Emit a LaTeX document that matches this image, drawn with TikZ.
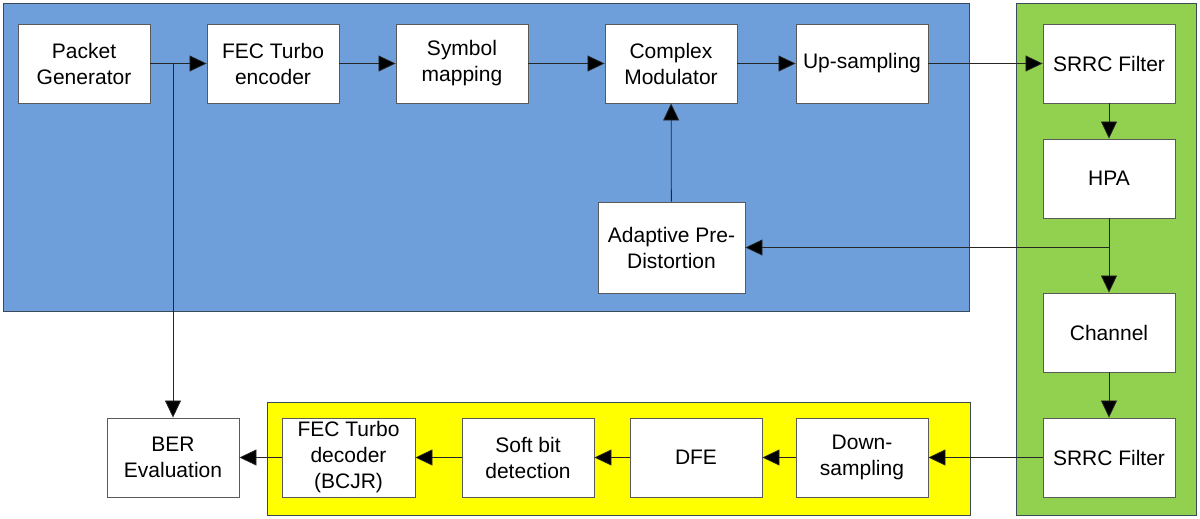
\documentclass[tikz,border=0pt]{standalone}
\usepackage{fontspec}
\setmainfont{Liberation Sans}
\usetikzlibrary{arrows.meta, positioning}
\definecolor{txBlue}{HTML}{6F9FDB}
\definecolor{chGreen}{HTML}{92D050}
\definecolor{rxYellow}{HTML}{FFFF00}
\definecolor{edgeGray}{HTML}{5A5A5A}
\definecolor{areaLine}{HTML}{3A4A5A}

\begin{document}
\begin{tikzpicture}[x=1pt, y=-1pt,
  blk/.style={draw=edgeGray, line width=0.9pt, fill=white, minimum width=132pt, minimum height=79pt,
    inner sep=2pt, align=center, font=\fontsize{21}{26}\selectfont},
  area/.style={draw=areaLine, line width=0.9pt},
  arr/.style={-{Triangle[length=17pt, width=16pt, fill=black]}, line width=0.8pt, black!85}]
\useasboundingbox (0,0) rectangle (1200,519);
% background areas
\draw[area, fill=txBlue] (3,3) rectangle (969,311);
\draw[area, fill=chGreen] (1016,3) rectangle (1196,515);
\draw[area, fill=rxYellow] (267,402) rectangle (970,515);
% transmitter
\node[blk] (pg) at (84,63.5) {Packet\\Generator};
\node[blk] (fecenc) at (273,63.5) {FEC Turbo\\encoder};
\node[blk] (symmap) at (462,63.5) {Symbol\\mapping};
\node[blk] (cmod) at (671,63.5) {Complex\\Modulator};
\node[blk] (upsmp) at (862,63.5) {Up-sampling};
\node[blk, minimum width=147pt, minimum height=91pt] (apd) at (671.5,247.5) {Adaptive Pre-\\Distortion};
% channel
\node[blk] (srrctx) at (1109,63.5) {SRRC Filter};
\node[blk] (hpa) at (1109,178.5) {HPA};
\node[blk] (chan) at (1109,332.5) {Channel};
\node[blk] (srrcrx) at (1109,457.5) {SRRC Filter};
% receiver
\node[blk] (dnsmp) at (862,457.5) {Down-\\sampling};
\node[blk] (dfe) at (696,457.5) {DFE};
\node[blk] (soft) at (528,457.5) {Soft bit\\detection};
\node[blk, minimum width=133pt] (fecdec) at (348.5,457.5) {FEC Turbo\\decoder\\(BCJR)};
\node[blk] (ber) at (173,457.5) {BER\\Evaluation};
% connectors
\coordinate (tap) at (hpa.south |- apd.east);
\draw[arr] (pg) -- (fecenc);
\draw[arr] (pg.east -| ber.north) -- (ber.north);
\draw[arr] (fecenc) -- (symmap);
\draw[arr] (symmap) -- (cmod);
\draw[arr] (cmod) -- (upsmp);
\draw[arr] (upsmp) -- (srrctx);
\draw[arr] (srrctx) -- (hpa);
\draw[arr] (hpa) -- (chan);
\draw[arr] (tap) -- (apd.east);
\draw[arr] (apd) -- (cmod);
\draw[arr] (chan) -- (srrcrx);
\draw[arr] (srrcrx) -- (dnsmp);
\draw[arr] (dnsmp) -- (dfe);
\draw[arr] (dfe) -- (soft);
\draw[arr] (soft) -- (fecdec);
\draw[arr] (fecdec) -- (ber);
\end{tikzpicture}
\end{document}
